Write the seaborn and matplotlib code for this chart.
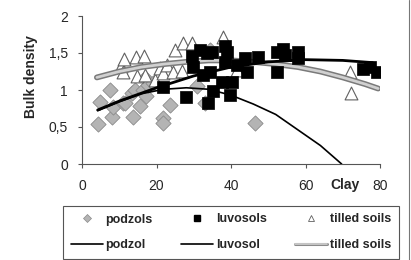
import numpy as np
import pandas as pd
import matplotlib.pyplot as plt
import matplotlib.patheffects as pe
from matplotlib.lines import Line2D
import seaborn as sns

# podzols (grey diamonds)
podzol_clay = [4.2, 4.8, 7.5, 8.1, 8.4, 11.1, 11.5, 13.3, 13.8, 14.2, 15.6, 16.5,
               16.9, 17.1, 17.8, 19.1, 21.8, 21.8, 23.6, 30.8, 33.0, 34.4, 46.4]
podzol_bd = [0.54, 0.84, 1.00, 0.64, 0.77, 0.83, 0.82, 0.96, 0.64, 1.00, 0.78, 1.00,
             1.16, 0.92, 1.07, 1.09, 0.62, 0.56, 0.80, 1.06, 0.82, 1.54, 0.55]

# luvosols (black squares)
luvo_clay = [21.8, 27.9, 29.4, 29.9, 31.7, 32.6, 33.5, 33.9, 34.4, 34.8, 35.3, 37.5,
             38.4, 38.8, 38.4, 39.7, 40.2, 41.5, 43.8, 44.2, 47.3, 52.3, 52.3, 54.0,
             54.5, 58.1, 58.1, 75.5, 77.3, 79.1]
luvo_bd = [1.04, 0.91, 1.46, 1.31, 1.54, 1.20, 1.50, 0.83, 1.25, 1.52, 0.98, 1.11,
           1.59, 1.52, 1.38, 0.93, 1.11, 1.34, 1.43, 1.24, 1.45, 1.25, 1.52, 1.56,
           1.47, 1.52, 1.43, 1.29, 1.31, 1.25]

# tilled soils (open triangles)
till_clay = [10.5, 10.9, 11.3, 14.5, 14.7, 16.6, 16.9, 19.6, 20.9, 21.8, 22.7, 24.3,
             25.0, 26.8, 27.2, 29.4, 37.9, 41.5, 71.9, 72.1]
till_bd = [1.32, 1.25, 1.42, 1.44, 1.19, 1.46, 1.20, 1.14, 1.30, 1.23, 1.34, 1.25,
           1.54, 1.26, 1.63, 1.63, 1.71, 1.27, 1.25, 0.96]

# trend lines
podzol_line_x = [4.2, 10, 16, 22, 28, 34, 40, 46, 52, 58, 64, 69.7]
podzol_line_y = [0.72, 0.84, 0.95, 1.01, 1.03, 1.01, 0.93, 0.81, 0.67, 0.46, 0.25, 0.0]
luvo_line_x = [4.2, 10, 20, 30, 40, 50, 60, 70, 78]
luvo_line_y = [0.73, 0.85, 1.03, 1.19, 1.31, 1.38, 1.41, 1.40, 1.37]
till_line_x = [4, 10, 16, 22, 28, 34, 40, 46, 52, 58, 64, 70, 76, 79.5]
till_line_y = [1.17, 1.25, 1.31, 1.35, 1.38, 1.40, 1.40, 1.38, 1.35, 1.31, 1.25, 1.17, 1.08, 1.02]

yticks = [0, 0.5, 1, 1.5, 2]
ytick_labels = ['0', '0,5', '1', '1,5', '2']
xticks = [0, 20, 40, 60, 80]

sns.set_style('white')
plt.rcParams['font.family'] = ['Liberation Sans', 'DejaVu Sans']

fig = plt.figure(figsize=(4.11, 2.6), dpi=100)
ax = fig.add_axes([82 / 411, 1 - 164 / 260, 298 / 411, 148 / 260])

till_fx = [pe.Stroke(linewidth=4.2, foreground='#7a7a7a'), pe.Normal()]

sns.lineplot(x=till_line_x, y=till_line_y, ax=ax, color='#d0d0d0', lw=2.0,
             sort=False, estimator=None, path_effects=till_fx, zorder=3)
sns.lineplot(x=luvo_line_x, y=luvo_line_y, ax=ax, color='black', lw=2.0,
             sort=False, estimator=None, zorder=4)
sns.lineplot(x=podzol_line_x, y=podzol_line_y, ax=ax, color='black', lw=1.2,
             sort=False, estimator=None, zorder=4)

sns.scatterplot(x=podzol_clay, y=podzol_bd, ax=ax, marker='D', s=60,
                color='#b4b4b4', edgecolor='#8a8a8a', linewidth=0.6, zorder=2)
sns.scatterplot(x=till_clay, y=till_bd, ax=ax, marker='^', s=85,
                color='white', edgecolor='#606060', linewidth=0.8, zorder=2)
sns.scatterplot(x=luvo_clay, y=luvo_bd, ax=ax, marker='s', s=68,
                color='black', edgecolor='black', linewidth=0.5, zorder=5)

ax.set_xlim(0, 80)
ax.set_ylim(0, 2)
ax.set_xticks(xticks)
ax.set_yticks(yticks)
ax.set_yticklabels(ytick_labels)
ax.tick_params(axis='both', labelsize=10, length=3, width=0.8, color='#555555',
               direction='out', bottom=True, left=True)
ax.tick_params(axis='x', pad=8)
ax.tick_params(axis='y', pad=7)
for side in ['top', 'right']:
    ax.spines[side].set_visible(False)
for side in ['left', 'bottom']:
    ax.spines[side].set_color('#555555')
    ax.spines[side].set_linewidth(0.8)
ax.set_xlabel('')
ax.set_ylabel('')

fig.text(31 / 411, 1 - 77 / 260, 'Bulk density', rotation=90, ha='center',
         va='center', fontsize=10, fontweight='bold')
fig.text(345 / 411, 1 - 185 / 260, 'Clay', ha='center', va='center',
         fontsize=10, fontweight='bold')

handles = [
    Line2D([], [], ls='none', marker='D', markersize=4, markerfacecolor='#b4b4b4',
           markeredgecolor='#8a8a8a', markeredgewidth=0.5),
    Line2D([], [], color='black', lw=1.2),
    Line2D([], [], ls='none', marker='s', markersize=5, color='black'),
    Line2D([], [], color='black', lw=1.2),
    Line2D([], [], ls='none', marker='^', markersize=5, markerfacecolor='white',
           markeredgecolor='#606060', markeredgewidth=0.6),
    Line2D([], [], color='#d0d0d0', lw=1.2,
           path_effects=[pe.Stroke(linewidth=2.2, foreground='#8a8a8a'), pe.Normal()]),
]
labels = ['podzols', 'podzol', 'luvosols', 'luvosol', 'tilled soils', 'tilled soils']
leg = fig.legend(handles, labels, ncol=3, loc='upper left',
                 bbox_to_anchor=(63 / 411, 1 - 206 / 260), frameon=True,
                 fancybox=False, edgecolor='#555555', framealpha=1,
                 prop={'size': 9, 'weight': 'bold'}, handlelength=2.6,
                 handletextpad=0.2, columnspacing=2.25, labelspacing=1.1,
                 borderpad=0.6, borderaxespad=0)
leg.get_frame().set_linewidth(0.8)

fig.add_artist(Line2D([409 / 411, 409 / 411], [0, 1], color='#777777', lw=0.8))

fig.savefig('out.png', dpi=100)
